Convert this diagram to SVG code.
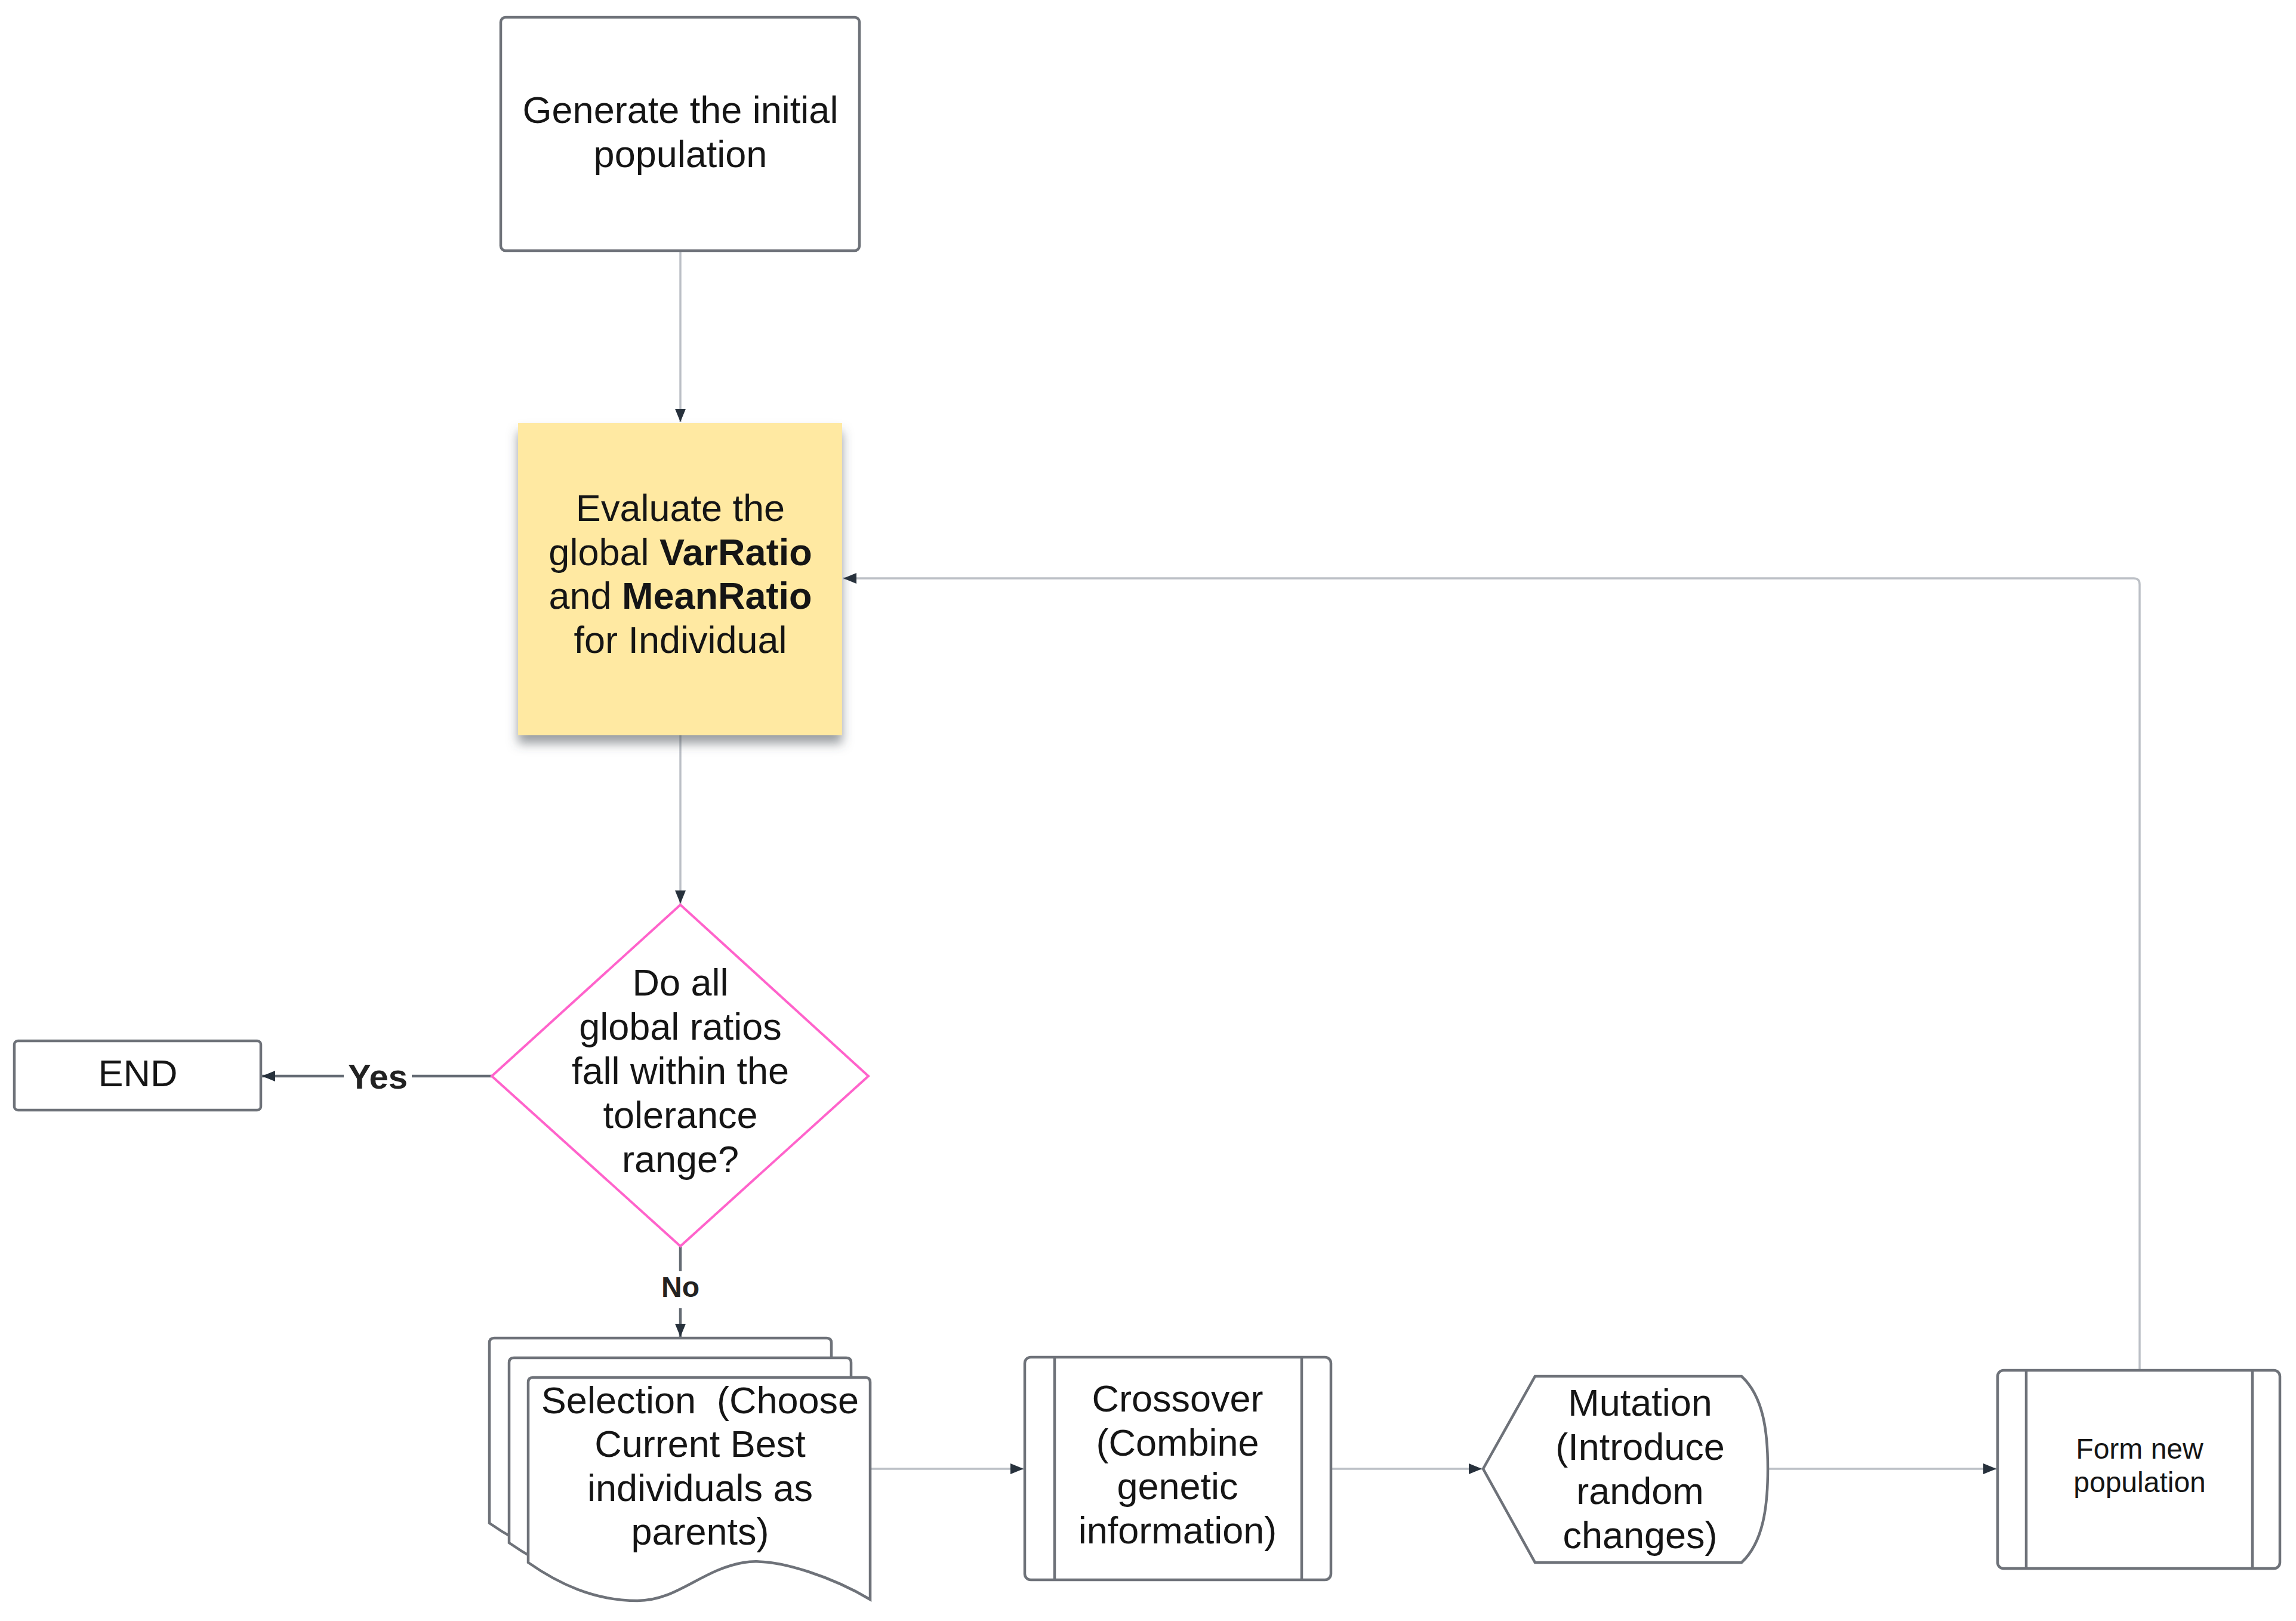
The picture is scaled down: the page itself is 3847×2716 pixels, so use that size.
<svg xmlns="http://www.w3.org/2000/svg" xmlns:xlink="http://www.w3.org/1999/xlink" width="3847" height="2716" viewBox="0 0 3847 2716">
<style>
.node{fill:#ffffff;stroke:#6e7279;stroke-width:4.5}
.t{font-family:"Liberation Sans",Arial,sans-serif;font-size:63px;fill:#151515;text-anchor:middle}
.ts{font-size:48px}
.lbl{font-family:"Liberation Sans",Arial,sans-serif;font-weight:bold;fill:#222;text-anchor:middle}
.conn{fill:none;stroke:#bcc0c6;stroke-width:3.5}
.connd{fill:none;stroke:#646b73;stroke-width:4.5}
.b{font-weight:bold}
</style>
<defs>
<marker id="ah" markerUnits="userSpaceOnUse" viewBox="0 0 22 18" markerWidth="22" markerHeight="18" refX="22" refY="9" orient="auto">
<path d="M0,0 L22,9 L0,18 Z" fill="#27313c"/>
</marker>
<filter id="sh" x="-10%" y="-10%" width="120%" height="130%">
<feDropShadow dx="0" dy="14" stdDeviation="9" flood-color="#4a4f57" flood-opacity="0.55"/>
</filter>
<path id="doc" d="M0,8 Q0,0 8,0 L565,0 Q573,0 573,8 L573,372 C520,340 420,300 361,310 C290,322 250,374 183,374 C110,374 50,345 0,310 Z"/>
</defs>

<g id="connectors">
<path class="conn" d="M1140,420 L1140,707" marker-end="url(#ah)"/>
<path class="conn" d="M1140,1232 L1140,1514" marker-end="url(#ah)"/>
<path class="connd" d="M824,1803 L690,1803"/>
<path class="connd" d="M576,1803 L439,1803" marker-end="url(#ah)"/>
<path class="connd" d="M1140,2088 L1140,2130"/>
<path class="connd" d="M1140,2192 L1140,2240" marker-end="url(#ah)"/>
<path class="conn" d="M1458,2461 L1715,2461" marker-end="url(#ah)"/>
<path class="conn" d="M2230,2461 L2483,2461" marker-end="url(#ah)"/>
<path class="conn" d="M2962,2461 L3345,2461" marker-end="url(#ah)"/>
<path class="conn" d="M3585,2296 L3585,979 Q3585,969 3575,969 L1413,969" marker-end="url(#ah)"/>
<text class="lbl" x="633" y="1824" font-size="58">Yes</text>
<text class="lbl" x="1140" y="2173" font-size="48">No</text>
</g>

<g id="start">
<rect class="node" x="839" y="29" width="601" height="391" rx="8"/>
<text class="t" x="1140" y="206">Generate the initial</text>
<text class="t" x="1140" y="280">population</text>
</g>

<g id="evaluate">
<rect x="868" y="709" width="543" height="523" fill="#ffe9a2" filter="url(#sh)"/>
<text class="t" x="1140" y="873">Evaluate the</text>
<text class="t" x="1140" y="947">global <tspan class="b">VarRatio</tspan></text>
<text class="t" x="1140" y="1020">and <tspan class="b">MeanRatio</tspan></text>
<text class="t" x="1140" y="1094">for Individual</text>
</g>

<g id="decision">
<path d="M1140,1516 L1455,1803 L1140,2088 L824,1803 Z" fill="#ffffff" stroke="#ff63cb" stroke-width="4"/>
<text class="t" x="1140" y="1668">Do all</text>
<text class="t" x="1140" y="1742">global ratios</text>
<text class="t" x="1140" y="1816">fall within the</text>
<text class="t" x="1140" y="1890">tolerance</text>
<text class="t" x="1140" y="1964">range?</text>
</g>

<g id="end">
<rect class="node" x="24" y="1744" width="413" height="116" rx="6"/>
<text class="t" x="231" y="1820">END</text>
</g>

<g id="selection">
<use xlink:href="#doc" href="#doc" class="node" x="820" y="2242"/>
<use xlink:href="#doc" href="#doc" class="node" x="853" y="2275"/>
<use xlink:href="#doc" href="#doc" class="node" x="885" y="2308"/>
<text class="t" x="1173" y="2368" xml:space="preserve">Selection  (Choose</text>
<text class="t" x="1173" y="2441">Current Best</text>
<text class="t" x="1173" y="2515">individuals as</text>
<text class="t" x="1173" y="2588">parents)</text>
</g>

<g id="crossover">
<rect class="node" x="1717" y="2274" width="513" height="373" rx="10"/>
<line class="node" x1="1767" y1="2274" x2="1767" y2="2647"/>
<line class="node" x1="2181" y1="2274" x2="2181" y2="2647"/>
<text class="t" x="1973" y="2365">Crossover</text>
<text class="t" x="1973" y="2439">(Combine</text>
<text class="t" x="1973" y="2512">genetic</text>
<text class="t" x="1973" y="2586">information)</text>
</g>

<g id="mutation">
<path class="node" d="M2485,2461 L2572,2306 L2918,2306 C2955,2340 2962,2400 2962,2461 C2962,2522 2955,2584 2918,2618 L2572,2618 Z"/>
<text class="t" x="2748" y="2372">Mutation</text>
<text class="t" x="2748" y="2446">(Introduce</text>
<text class="t" x="2748" y="2520">random</text>
<text class="t" x="2748" y="2594">changes)</text>
</g>

<g id="form-new-population">
<rect class="node" x="3347" y="2296" width="473" height="332" rx="10"/>
<line class="node" x1="3395" y1="2296" x2="3395" y2="2628"/>
<line class="node" x1="3774" y1="2296" x2="3774" y2="2628"/>
<text class="t ts" x="3585" y="2444">Form new</text>
<text class="t ts" x="3585" y="2500">population</text>
</g>
</svg>
